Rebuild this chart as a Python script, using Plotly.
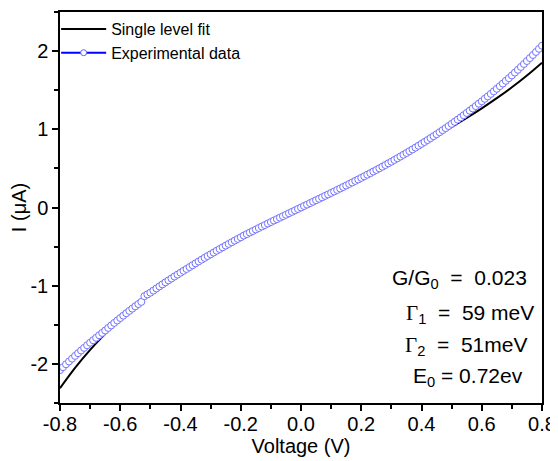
import plotly.graph_objects as go

# Experimental I-V data (V in volts, I in microamps)
V_DATA = [
    -0.80, -0.79, -0.78, -0.77, -0.76, -0.75, -0.74, -0.73, -0.72, -0.71,
    -0.70, -0.69, -0.68, -0.67, -0.66, -0.65, -0.64, -0.63, -0.62, -0.61,
    -0.60, -0.59, -0.58, -0.57, -0.56, -0.55, -0.54, -0.53, -0.52, -0.51,
    -0.50, -0.49, -0.48, -0.47, -0.46, -0.45, -0.44, -0.43, -0.42, -0.41,
    -0.40, -0.39, -0.38, -0.37, -0.36, -0.35, -0.34, -0.33, -0.32, -0.31,
    -0.30, -0.29, -0.28, -0.27, -0.26, -0.25, -0.24, -0.23, -0.22, -0.21,
    -0.20, -0.19, -0.18, -0.17, -0.16, -0.15, -0.14, -0.13, -0.12, -0.11,
    -0.10, -0.09, -0.08, -0.07, -0.06, -0.05, -0.04, -0.03, -0.02, -0.01,
    0.00,
    0.01, 0.02, 0.03, 0.04, 0.05, 0.06, 0.07, 0.08, 0.09, 0.10,
    0.11, 0.12, 0.13, 0.14, 0.15, 0.16, 0.17, 0.18, 0.19, 0.20,
    0.21, 0.22, 0.23, 0.24, 0.25, 0.26, 0.27, 0.28, 0.29, 0.30,
    0.31, 0.32, 0.33, 0.34, 0.35, 0.36, 0.37, 0.38, 0.39, 0.40,
    0.41, 0.42, 0.43, 0.44, 0.45, 0.46, 0.47, 0.48, 0.49, 0.50,
    0.51, 0.52, 0.53, 0.54, 0.55, 0.56, 0.57, 0.58, 0.59, 0.60,
    0.61, 0.62, 0.63, 0.64, 0.65, 0.66, 0.67, 0.68, 0.69, 0.70,
    0.71, 0.72, 0.73, 0.74, 0.75, 0.76, 0.77, 0.78, 0.79, 0.80,
]
I_DATA = [
    -2.079, -2.042, -2.005, -1.969, -1.933, -1.898, -1.863, -1.829, -1.795, -1.762,
    -1.729, -1.697, -1.666, -1.634, -1.604, -1.573, -1.540, -1.508, -1.476, -1.445,
    -1.413, -1.383, -1.352, -1.322, -1.293, -1.264, -1.235, -1.207, -1.134, -1.111,
    -1.089, -1.062, -1.035, -1.009, -0.983, -0.957, -0.932, -0.907, -0.882, -0.858,
    -0.834, -0.810, -0.786, -0.762, -0.738, -0.714, -0.690, -0.667, -0.644, -0.621,
    -0.598, -0.576, -0.553, -0.531, -0.509, -0.487, -0.466, -0.444, -0.423, -0.402,
    -0.381, -0.359, -0.340, -0.320, -0.301, -0.281, -0.262, -0.243, -0.224, -0.205,
    -0.186, -0.167, -0.149, -0.130, -0.111, -0.093, -0.074, -0.056, -0.037, -0.019,
    0.000,
    0.019, 0.037, 0.056, 0.074, 0.093, 0.111, 0.130, 0.149, 0.167, 0.186,
    0.205, 0.224, 0.243, 0.262, 0.281, 0.301, 0.320, 0.340, 0.359, 0.379,
    0.399, 0.419, 0.439, 0.460, 0.480, 0.501, 0.522, 0.543, 0.565, 0.586,
    0.608, 0.630, 0.652, 0.674, 0.697, 0.720, 0.743, 0.766, 0.790, 0.814,
    0.838, 0.862, 0.887, 0.912, 0.937, 0.963, 0.989, 1.015, 1.042, 1.069,
    1.096, 1.124, 1.152, 1.180, 1.209, 1.238, 1.267, 1.297, 1.328, 1.358,
    1.390, 1.421, 1.453, 1.485, 1.518, 1.552, 1.585, 1.620, 1.654, 1.689,
    1.725, 1.761, 1.798, 1.835, 1.873, 1.911, 1.950, 1.989, 2.029, 2.069,
]

# Single level model fit
V_FIT = [
    -0.80, -0.75, -0.70, -0.65, -0.60, -0.55, -0.50, -0.45, -0.40, -0.35, -0.30,
    -0.25, -0.20, -0.15, -0.10, -0.05, 0.00, 0.05, 0.10, 0.15, 0.20, 0.25,
    0.30, 0.35, 0.40, 0.45, 0.50, 0.55, 0.60, 0.65, 0.70, 0.75, 0.80,
]
I_FIT = [
    -2.310, -2.050, -1.820, -1.615, -1.428, -1.255, -1.100, -0.962, -0.834, -0.714, -0.598,
    -0.487, -0.381, -0.281, -0.186, -0.093, 0.000, 0.093, 0.186, 0.280, 0.378, 0.478,
    0.580, 0.690, 0.801, 0.913, 1.027, 1.145, 1.268, 1.398, 1.537, 1.688, 1.852,
]

X_TICKS = [-0.8, -0.6, -0.4, -0.2, 0.0, 0.2, 0.4, 0.6, 0.8]
X_TICKTEXT = ["-0.8", "-0.6", "-0.4", "-0.2", "0.0", "0.2", "0.4", "0.6", "0.8"]
Y_TICKS = [-2, -1, 0, 1, 2]
Y_TICKTEXT = ["-2", "-1", "0", "1", "2"]

FONT = "Liberation Sans, Arial, sans-serif"
GAMMA = "<span style='font-family:Liberation Serif, Times New Roman, serif'>Γ</span>"

fig = go.Figure()

fig.add_trace(go.Scatter(
    x=V_FIT, y=I_FIT, mode="lines", name="Single level fit",
    line=dict(color="black", width=2, shape="spline"),
))
# white-filled open circles drawn over the fit line
fig.add_trace(go.Scatter(
    x=V_DATA, y=I_DATA, mode="markers", showlegend=False,
    marker=dict(symbol="circle", size=7, color="white",
                line=dict(width=1, color="#7373ff")),
))
# legend entry only: line with a small marker
fig.add_trace(go.Scatter(
    x=[None], y=[None], mode="lines+markers", name="Experimental data",
    line=dict(color="#0000ff", width=2),
    marker=dict(symbol="circle", size=6, color="white", line=dict(color="#6060ff", width=1)),
))

axis_common = dict(
    showline=True, linecolor="black", linewidth=1.5, mirror=True,
    ticks="outside", ticklen=6, tickwidth=1.5, tickcolor="black",
    showgrid=False, zeroline=False,
    tickfont=dict(family=FONT, size=20, color="black"),
)

# the page body adds an 8px offset, so the figure is 8px smaller than the window
fig.update_layout(
    width=550, height=453,
    paper_bgcolor="white", plot_bgcolor="white",
    font=dict(family=FONT, color="black", size=16),
    margin=dict(l=52, r=16, t=4, b=58, autoexpand=False),
    xaxis=dict(
        **axis_common, range=[-0.8, 0.8], tickvals=X_TICKS, ticktext=X_TICKTEXT,
        ticklabelstandoff=-4,
        minor=dict(dtick=0.1, ticks="outside", ticklen=4, tickwidth=1.5, tickcolor="black"),
        title=dict(text="Voltage (V)", font=dict(family=FONT, size=20), standoff=4),
    ),
    yaxis=dict(
        **axis_common, range=[-2.5, 2.5], tickvals=Y_TICKS, ticktext=Y_TICKTEXT,
        minor=dict(dtick=0.5, ticks="outside", ticklen=4, tickwidth=1.5, tickcolor="black"),
        title=dict(text="I (μA)", font=dict(family=FONT, size=20), standoff=7),
    ),
    legend=dict(
        x=-0.008, y=1.0, xanchor="left", yanchor="top", itemwidth=45,
        bgcolor="rgba(0,0,0,0)", font=dict(family=FONT, size=16),
        tracegroupgap=0,
    ),
)

notes = [
    ("G/G<sub>0</sub>  =  0.023", 0.828, 0.316),
    (GAMMA + "<sub>1</sub>  =  59 meV", 0.851, 0.227),
    (GAMMA + "<sub>2</sub>  =  51meV", 0.842, 0.145),
    ("E<sub>0</sub> = 0.72ev", 0.846, 0.066),
]
for text, x, y in notes:
    fig.add_annotation(
        text=text, x=x, y=y, xref="paper", yref="paper",
        xanchor="center", yanchor="middle", showarrow=False,
        font=dict(family=FONT, size=21, color="black"),
    )

fig.write_html("out.html")
